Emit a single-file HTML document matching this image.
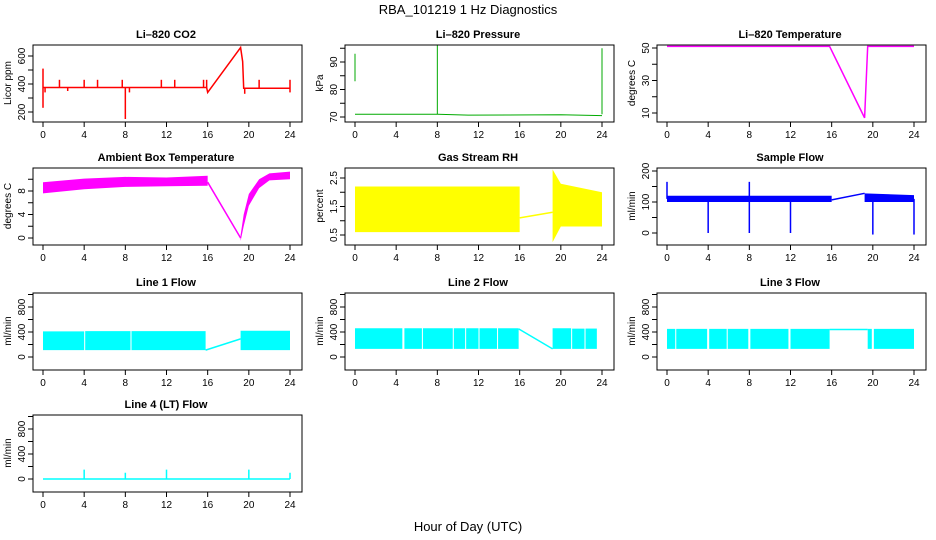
<!DOCTYPE html>
<html><head><meta charset="utf-8"><style>
body{margin:0;background:#fff;}
svg{display:block;font-family:"Liberation Sans",sans-serif;}
</style></head><body>
<svg id="c" width="936" height="540" xmlns="http://www.w3.org/2000/svg">
<text x="468" y="14" text-anchor="middle" font-size="13">RBA_101219  1 Hz Diagnostics</text>
<text x="468" y="531" text-anchor="middle" font-size="13">Hour of Day (UTC)</text>
</svg>
<script>
const xTicks=[0,4,8,12,16,20,24];
// CO2
const co2Hours=[0,15.9,16,19.2,19.4,19.5,24];
const co2Vals=[375,375,340,660,560,370,370];
const co2Spikes=[[0,230,510],[0.2,375,340],[1.6,375,430],[2.4,375,350],[4,375,430],[5.3,375,430],[7.7,375,430],[8,150,375],[8.4,375,340],[11.5,375,430],[12.8,375,430],[15.6,375,430],[15.9,375,430],[19.6,370,330],[21,370,430],[24,340,430]];
// Pressure
const presHours=[0,8,11,20,24];
const presVals=[71,71,70.7,70.8,70.5];
const presSpikes=[[0,83,93],[8,71,96],[24,71,95]];
// Li-820 temperature
const tempHours=[0,15.8,19.2,19.5,24];
const tempVals=[51,51,7,51,51];
// Ambient
const ambHours=[0,4,8,12,16];
const ambLo=[7.6,8.3,8.7,8.8,8.9];
const ambHi=[9.5,10.1,10.4,10.3,10.6];
const ambLineH=[16,19.2];const ambLineV=[9.5,0];
const ambRecH=[19.2,19.5,20,21,22,24];
const ambRecLo=[-0.5,2,5.5,8.5,9.8,10];
const ambRecHi=[0.5,4,7.5,10,11,11.3];
// RH
const rhHours=[0,16];const rhLo=[0.6,0.6];const rhHi=[2.2,2.2];
const rhLineH=[16,19.2];const rhLineV=[1.1,1.3];
const rh2Hours=[19.2,20,24];const rh2Lo=[0.25,0.8,0.8];const rh2Hi=[2.8,2.3,2.0];
// Sample flow
const sfHours=[0,16];const sfLo=[100,100];const sfHi=[120,120];
const sfLineH=[16,19.2];const sfLineV=[107,128];
const sf2Hours=[19.2,24];const sf2Lo=[100,100];const sf2Hi=[128,122];
const sfSpikes=[[0,110,165],[4,0,110],[8,0,165],[12,0,110],[20,-5,110],[24,-5,110]];
// Line flows [start, end, low, high]
const l1Bands=[[0,4,110,410],[4.1,8.5,110,415],[8.6,15.8,110,415],[19.2,24,110,420]];
const l1LineH=[15.8,19.2];const l1LineV=[110,290];
const l2Bands=[[0,4.6,130,460],[4.8,6.5,130,460],[6.6,9.5,130,460],[9.6,10.7,130,460],[10.8,12,130,460],[12.1,13.8,130,460],[13.9,15.9,130,460],[19.2,21,130,460],[21.1,22.3,130,455],[22.4,23.5,130,455]];
const l2LineH=[15.9,19.2];const l2LineV=[450,130];
const l3Bands=[[0,0.8,130,450],[0.9,3.9,130,450],[4.1,5.8,130,450],[5.9,7.9,130,450],[8.1,11.8,130,450],[12,15.8,130,450],[19.5,19.9,130,450],[20.1,24,130,450]];
const l3LineH=[15.8,19.5];const l3LineV=[440,440];
const l4Hours=[0,24];const l4Vals=[0,0];
const l4Spikes=[[4,0,150],[8,0,100],[12,0,150],[20,0,150],[24,0,100]];

const svg=document.getElementById('c');
const NS='http://www.w3.org/2000/svg';
function el(t,a,p){const e=document.createElementNS(NS,t);for(const k in a)e.setAttribute(k,a[k]);(p||svg).appendChild(e);return e;}
const colX=[43,355,667],rowT=[45,168,293,415],pph=247/24;
function panel(name,c,r,title,ylab,v1,p1,v2,p2,ticks,labels,color,draw){
  const g=el('g',{});
  
  
  const x0=colX[c],top=rowT[r],bot=top+77;
  const X=h=>x0+h*pph;
  const Y=v=>p1+(v-v1)*(p2-p1)/(v2-v1);
  const t=el('text',{x:x0+123,y:top-7,'text-anchor':'middle','font-size':11,'font-weight':'bold'},g);t.textContent=title;
  
  const b=el('rect',{x:x0-10,y:top,width:269,height:77,fill:'none',stroke:'#000','stroke-width':1},g);
  
  xTicks.forEach(h=>{el('line',{x1:X(h),x2:X(h),y1:bot,y2:bot+5,stroke:'#000'},g);
    const l=el('text',{x:X(h),y:bot+16,'text-anchor':'middle','font-size':10},g);l.textContent=h;
    });
  ticks.forEach(v=>{el('line',{x1:x0-10,x2:x0-15,y1:Y(v),y2:Y(v),stroke:'#000'},g);});
  labels.forEach(v=>{const l=el('text',{x:0,y:0,'text-anchor':'middle','font-size':10,transform:`translate(${x0-18},${Y(v)}) rotate(-90)`},g);l.textContent=v;
    });
  const yl=el('text',{x:0,y:0,'text-anchor':'middle','font-size':10,transform:`translate(${x0-32},${top+38}) rotate(-90)`},g);yl.textContent=ylab;
  
  const api={
    line(hs,vs,w){const p=el('polyline',{points:hs.map((h,i)=>X(h)+','+Y(vs[i])).join(' '),fill:'none',stroke:color,'stroke-width':w||1.5},g);
      },
    band(hs,lo,hi){const pts=hs.map((h,i)=>X(h)+','+Y(hi[i])).concat(hs.slice().reverse().map((h,i)=>X(h)+','+Y(lo[hs.length-1-i])));
      const p=el('polygon',{points:pts.join(' '),fill:color,stroke:'none'},g);
      },
    spikes(s,w){s.forEach(d=>{const l=el('line',{x1:X(d[0]),x2:X(d[0]),y1:Y(d[1]),y2:Y(d[2]),stroke:color,'stroke-width':w||1.5},g);
      });}
  };
  draw(api);
}
panel('co2-panel',0,0,'Li\u2013820 CO2','Licor ppm',200,112,600,56,[200,300,400,500,600],[200,400,600],'#f00',a=>{a.line(co2Hours,co2Vals);a.spikes(co2Spikes);});
panel('pressure-panel',1,0,'Li\u2013820 Pressure','kPa',70,117,90,62,[70,75,80,85,90,95],[70,80,90],'#0a0',a=>{a.line(presHours,presVals,1);a.spikes(presSpikes,1);});
panel('temperature-panel',2,0,'Li\u2013820 Temperature','degrees C',10,113,50,48,[10,20,30,40,50],[10,30,50],'#f0f',a=>{a.line(tempHours,tempVals);});
panel('ambient-panel',0,1,'Ambient Box Temperature','degrees C',0,238,8,191,[0,2,4,6,8,10],[0,4,8],'#f0f',a=>{a.band(ambHours,ambLo,ambHi);a.line(ambLineH,ambLineV);a.band(ambRecH,ambRecLo,ambRecHi);});
panel('rh-panel',1,1,'Gas Stream RH','percent',0.5,235,2.5,178,[0.5,1,1.5,2,2.5],[0.5,1.5,2.5],'#ff0',a=>{a.band(rhHours,rhLo,rhHi);a.line(rhLineH,rhLineV);a.band(rh2Hours,rh2Lo,rh2Hi);});
panel('sample-flow-panel',2,1,'Sample Flow','ml/min',0,233,200,171,[0,50,100,150,200],[0,100,200],'#00f',a=>{a.band(sfHours,sfLo,sfHi);a.line(sfLineH,sfLineV);a.band(sf2Hours,sf2Lo,sf2Hi);a.spikes(sfSpikes);});
const fl=[0,200,400,600,800,1000],fll=[0,400,800];
function flowBands(a,bands){bands.forEach(b=>a.band([b[0],b[1]],[b[2],b[2]],[b[3],b[3]]));}
panel('line1-flow-panel',0,2,'Line 1 Flow','ml/min',0,357,800,307,fl,fll,'#0ff',a=>{flowBands(a,l1Bands);a.line(l1LineH,l1LineV);});
panel('line2-flow-panel',1,2,'Line 2 Flow','ml/min',0,357,800,307,fl,fll,'#0ff',a=>{flowBands(a,l2Bands);a.line(l2LineH,l2LineV);});
panel('line3-flow-panel',2,2,'Line 3 Flow','ml/min',0,357,800,307,fl,fll,'#0ff',a=>{flowBands(a,l3Bands);a.line(l3LineH,l3LineV);});
panel('line4-flow-panel',0,3,'Line 4 (LT) Flow','ml/min',0,479,800,429,fl,fll,'#0ff',a=>{a.line(l4Hours,l4Vals);a.spikes(l4Spikes);});
</script>
</body></html>
